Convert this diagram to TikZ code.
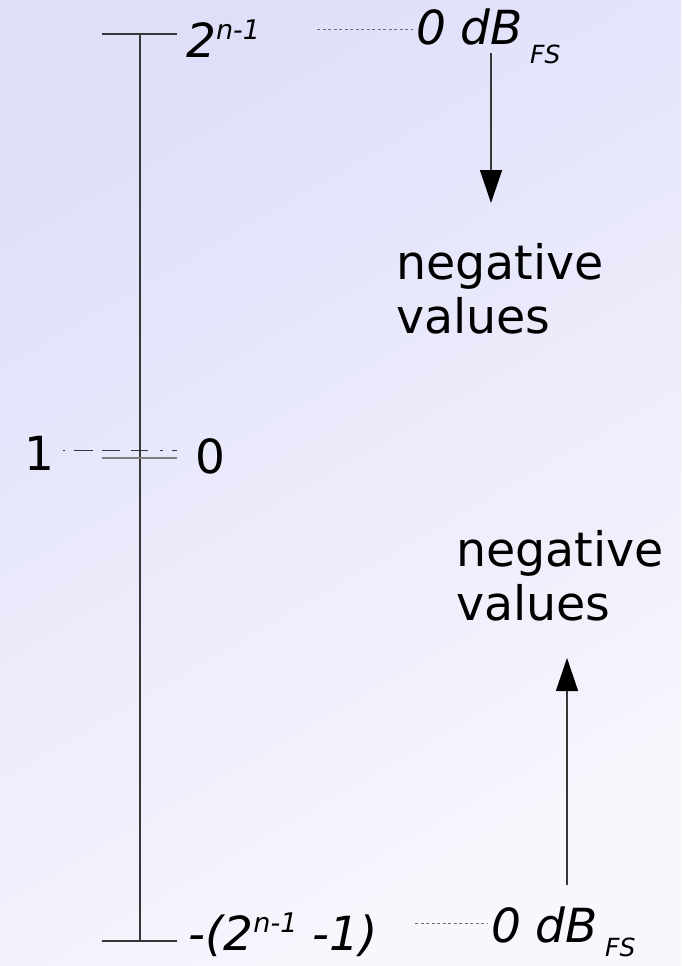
\documentclass[tikz,border=0pt]{standalone}
\usepackage{fontspec}
\setmainfont{DejaVu Sans}
\usetikzlibrary{arrows.meta}

\definecolor{bgtop}{RGB}{223,223,250}
\definecolor{bgbot}{RGB}{247,247,253}
\definecolor{axisgray}{RGB}{55,55,55}
\definecolor{dotgray}{RGB}{110,110,110}

\newcommand{\supnm}{\raisebox{18pt}{\fontsize{27}{27}\selectfont n-1}}
\newcommand{\subfs}[1]{\hspace{7pt}\raisebox{-#1}{\fontsize{25}{25}\selectfont FS}}

\tikzset{
  lbl/.style={inner sep=0pt, anchor=base west, font=\fontsize{47}{54}\selectfont},
  ilbl/.style={lbl, font=\fontsize{47}{54}\selectfont\itshape},
  note/.style={inner sep=0pt, anchor=north west, align=left, font=\fontsize{47.5}{54}\selectfont},
  axisline/.style={draw=axisgray, line width=1.1pt},
  levelline/.style={draw=dotgray, line width=0.9pt, dash pattern=on 3pt off 2.5pt},
  flow/.style={draw=axisgray, line width=1.4pt, -{Triangle[length=33pt, width=22pt, black]}}
}

\begin{document}
\begin{tikzpicture}[x=1pt, y=-1pt]
\useasboundingbox (0,0) rectangle (681,966);
\shade[top color=bgtop, bottom color=bgbot, shading angle=30] (0,0) rectangle (681,966);

% scale
\coordinate (ztop) at (140,34);
\coordinate (zbot) at (140,941);
\coordinate (tl) at (102,34);
\coordinate (tr) at (177,34);
\coordinate (bl) at (102,941);
\coordinate (br) at (177,941);
\coordinate (ml) at (102,458);
\coordinate (mr) at (177,458);
\coordinate (dl) at (63,450);
\coordinate (dr) at (178,450);

\draw[axisline] (ztop) -- (zbot);
\draw[axisline] (tl) -- (tr);
\draw[axisline] (bl) -- (br);
\draw[draw=gray, line width=1.6pt] (ml) -- (mr);
\draw[draw=axisgray, line width=1pt, dash pattern=on 2pt off 9pt on 19pt off 9pt on 18pt off 11pt on 17pt off 12pt on 3pt off 9pt on 5pt] (dl) -- (dr);

% labels
\node[ilbl] (pmax) at (186,58) {2\supnm};
\node[lbl]  (one)  at (24,470) {1};
\node[lbl]  (zero) at (195,473) {0};
\node[ilbl] (nmax) at (188,950) {-(2\supnm\ -1)};

\node[ilbl] (fstop) at (416,45) {0 dB\subfs{19pt}};
\node[ilbl] (fsbot) at (491,942) {0 dB\subfs{14pt}};

\coordinate (tdl) at (317,29);
\coordinate (tdr) at (413,29);
\coordinate (bdl) at (415,923);
\coordinate (bdr) at (488,923);
\draw[levelline] (tdl) -- (tdr);
\draw[levelline] (bdl) -- (bdr);

% directions
\coordinate (dtail) at (491,53);
\coordinate (dtip) at (491,203);
\coordinate (utail) at (567,885);
\coordinate (utip) at (567,658);
\draw[flow] (dtail) -- (dtip);
\draw[flow] (utail) -- (utip);

\node[note] (negtop) at (396,243) {negative\\values};
\node[note] (negbot) at (456,530) {negative\\values};
\end{tikzpicture}
\end{document}
